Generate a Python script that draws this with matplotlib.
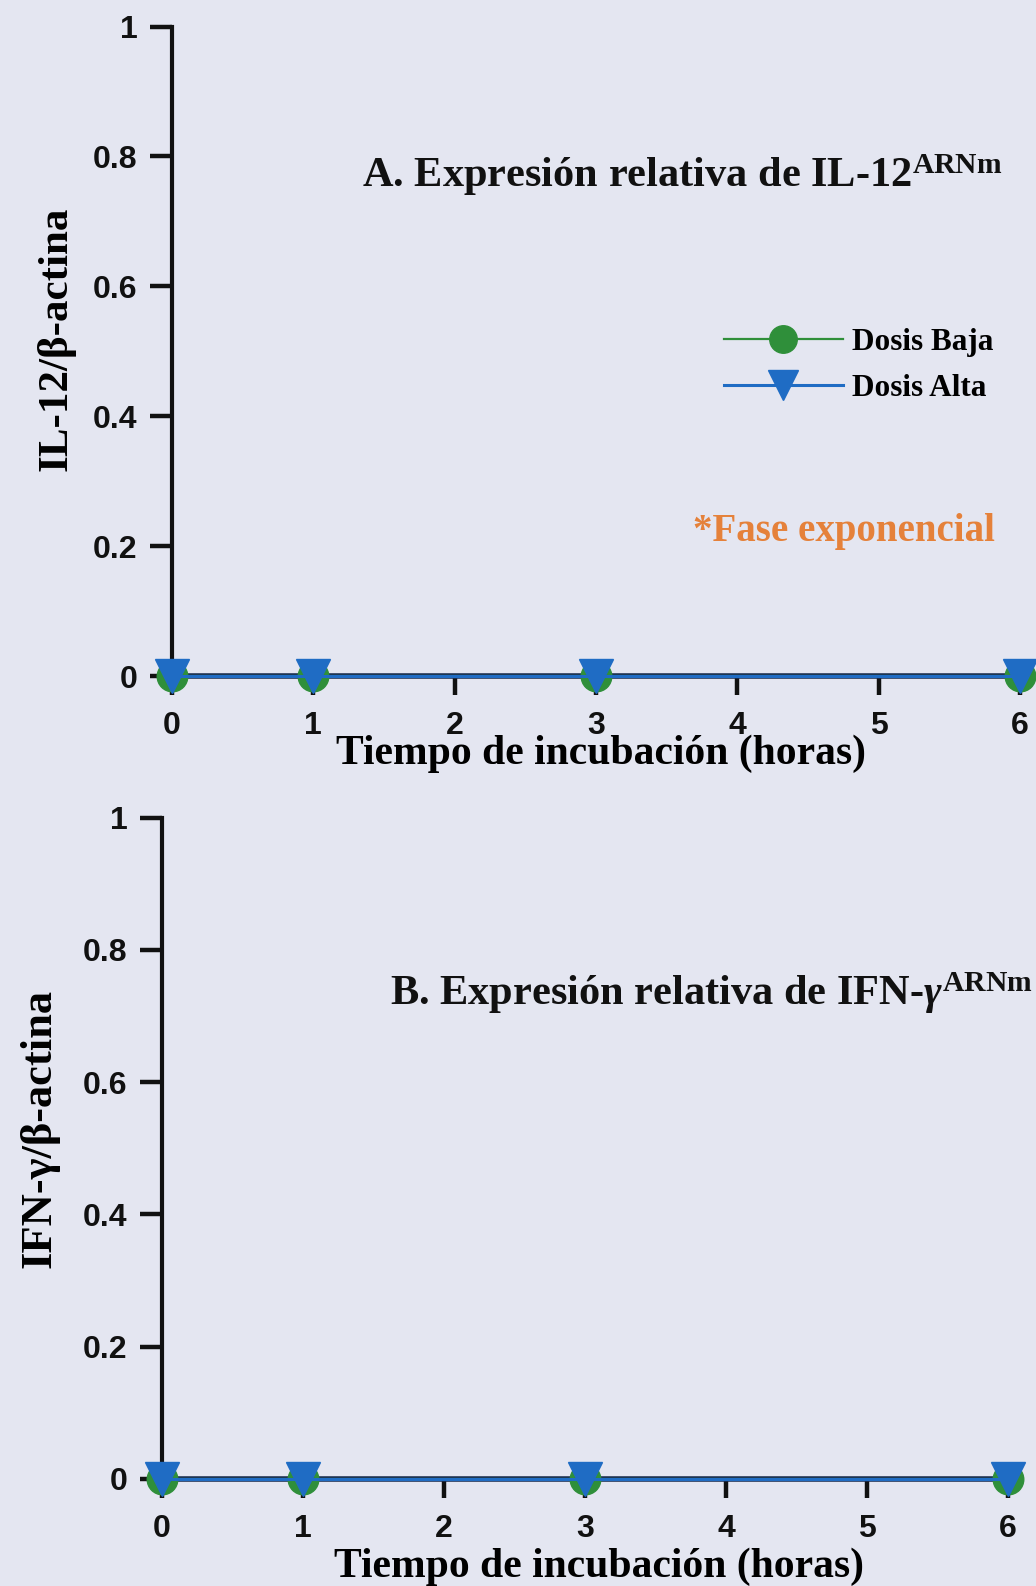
import matplotlib
matplotlib.use("Agg")
import matplotlib.pyplot as plt

# Data
horas = [0, 1, 3, 6]
il12_baja = [0.0, 0.0, 0.0, 0.0]
il12_alta = [0.0, 0.0, 0.0, 0.0]
ifn_baja = [0.0, 0.0, 0.0, 0.0]
ifn_alta = [0.0, 0.0, 0.0, 0.0]
xticks = [0, 1, 2, 3, 4, 5, 6]
yticks = [0, 0.2, 0.4, 0.6, 0.8, 1]
yticklabels = ["0", "0.2", "0.4", "0.6", "0.8", "1"]

BG = "#e4e6f1"
GREEN = "#2f8f3a"
BLUE = "#1f6cc4"
ORANGE = "#e5813a"
SERIF = "Liberation Serif"
SANS = "Liberation Sans"

plt.rcParams["mathtext.fontset"] = "custom"
plt.rcParams["mathtext.rm"] = "Liberation Serif:bold"
plt.rcParams["mathtext.bf"] = "Liberation Serif:bold"
plt.rcParams["mathtext.it"] = "Liberation Serif:bold:italic"

W, H = 1036, 1586
fig = plt.figure(figsize=(W / 100, H / 100), dpi=100, facecolor=BG)


def make_axes(rect, xpad):
    ax = fig.add_axes(rect)
    ax.set_facecolor(BG)
    for s in ["top", "right"]:
        ax.spines[s].set_visible(False)
    ax.spines["left"].set_linewidth(3.0)
    ax.spines["left"].set_color("#111111")
    ax.spines["bottom"].set_linewidth(4.0)
    ax.spines["bottom"].set_color("#1a2c50")
    ax.set_xlim(0, 6.05)
    ax.set_ylim(0, 1)
    ax.set_xticks(xticks)
    ax.set_yticks(yticks)
    ax.set_yticklabels(yticklabels)
    ax.tick_params(axis="y", direction="out", length=16, width=3.2, pad=9,
                   labelsize=23, colors="#111111")
    ax.tick_params(axis="x", direction="out", length=14, width=3.2, pad=xpad,
                   labelsize=23, colors="#111111")
    for lab in ax.get_xticklabels() + ax.get_yticklabels():
        lab.set_fontfamily(SANS)
        lab.set_fontweight("bold")
    return ax


def plot_series(ax, baja, alta):
    lb, = ax.plot(horas, baja, color=GREEN, lw=1.6, marker="o", ms=22,
                  mfc=GREEN, mec=GREEN, clip_on=False, zorder=4,
                  label="Dosis Baja")
    la, = ax.plot(horas, alta, color=BLUE, lw=2.2, marker="v", ms=24,
                  mfc=BLUE, mec=BLUE, clip_on=False, zorder=5,
                  label="Dosis Alta")
    return lb, la


# Panel A
axA = make_axes([172 / W, 1 - 676 / H, 855 / W, (676 - 26.5) / H], 11)
lb, la = plot_series(axA, il12_baja, il12_alta)
axA.set_xlabel("Tiempo de incubación (horas)", fontfamily=SERIF,
               fontweight="bold", fontsize=30)
axA.xaxis.label.set_va("center")
axA.xaxis.set_label_coords(601 / W, 1 - 754 / H, transform=fig.transFigure)
axA.set_ylabel("IL-12/β-actina", fontfamily=SERIF, fontweight="bold",
               fontsize=31)
axA.yaxis.label.set_va("center")
axA.yaxis.set_label_coords(56 / W, 1 - 339 / H, transform=fig.transFigure)
fig.text(362 / W, 1 - 175 / H, r"A. Expresión relativa de IL-12$^{\mathbf{ARNm}}$",
         fontfamily=SERIF, fontweight="bold", fontsize=30.5, va="center",
         ha="left", color="#111111")
fig.text(693 / W, 1 - 532 / H, "*Fase exponencial", fontfamily=SERIF,
         fontweight="bold", fontsize=28, va="center", ha="left", color=ORANGE)
leg = fig.legend(handles=[lb, la], loc="upper left",
                 bbox_to_anchor=(724 / W, 1 - 328 / H),
                 frameon=False, handlelength=3.8, handletextpad=0.3,
                 labelspacing=0.55, borderpad=0, borderaxespad=0,
                 markerscale=0.9,
                 prop={"family": SERIF, "weight": "bold", "size": 22.5})

# Panel B
axB = make_axes([162 / W, 1 - 1479 / H, 853 / W, (1479 - 817.5) / H], 11)
plot_series(axB, ifn_baja, ifn_alta)
axB.set_xlabel("Tiempo de incubación (horas)", fontfamily=SERIF,
               fontweight="bold", fontsize=30)
axB.xaxis.label.set_va("center")
axB.xaxis.set_label_coords(599 / W, 1 - 1567 / H, transform=fig.transFigure)
axB.set_ylabel("IFN-γ/β-actina", fontfamily=SERIF, fontweight="bold",
               fontsize=32)
axB.yaxis.label.set_va("center")
axB.yaxis.set_label_coords(40 / W, 1 - 1128 / H, transform=fig.transFigure)
fig.text(390 / W, 1 - 993 / H, r"B. Expresión relativa de IFN-$\gamma^{\mathbf{ARNm}}$",
         fontfamily=SERIF, fontweight="bold", fontsize=30.5, va="center",
         ha="left", color="#111111")

fig.savefig("out.png", dpi=100, facecolor=BG)
